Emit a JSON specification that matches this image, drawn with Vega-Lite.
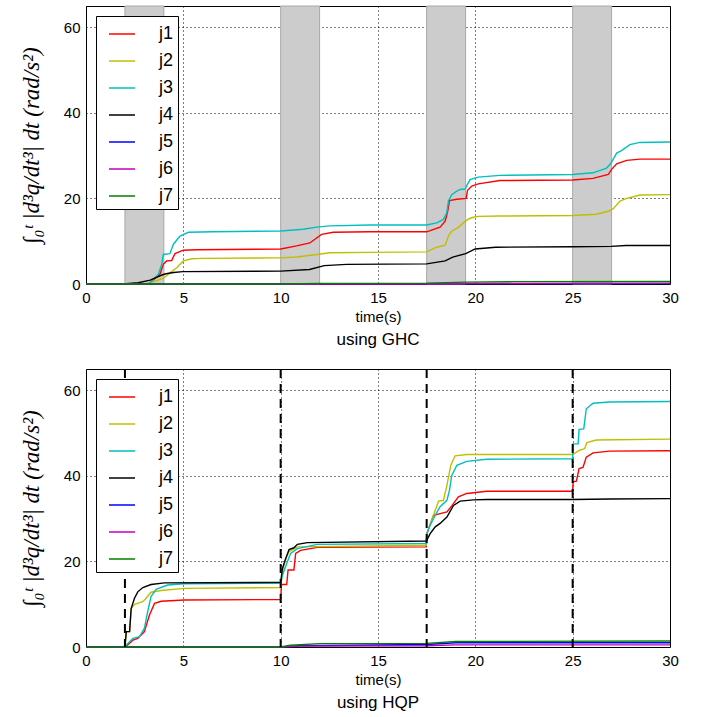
{
  "$schema": "https://vega.github.io/schema/vega-lite/v6.json",
  "padding": {"left": 19, "top": 5, "right": 0, "bottom": 0},
  "spacing": 18,
  "datasets": {
    "ghc": [
      {"j":"j1","t":0,"v":0},{"j":"j1","t":3.2,"v":0},{"j":"j1","t":3.3,"v":0.3},{"j":"j1","t":3.8,"v":2.3},{"j":"j1","t":3.97,"v":4.6},{"j":"j1","t":4.14,"v":5.4},{"j":"j1","t":4.4,"v":5.5},{"j":"j1","t":4.57,"v":7.1},{"j":"j1","t":5.0,"v":7.9},{"j":"j1","t":5.68,"v":8.0},{"j":"j1","t":10.0,"v":8.2},{"j":"j1","t":10.82,"v":8.9},{"j":"j1","t":11.5,"v":9.6},{"j":"j1","t":12.1,"v":11.6},{"j":"j1","t":12.7,"v":12.1},{"j":"j1","t":14.58,"v":12.2},{"j":"j1","t":17.5,"v":12.2},{"j":"j1","t":18.19,"v":13.3},{"j":"j1","t":18.45,"v":14.7},{"j":"j1","t":18.58,"v":17.0},{"j":"j1","t":18.67,"v":19.5},{"j":"j1","t":19.05,"v":19.8},{"j":"j1","t":19.53,"v":20.0},{"j":"j1","t":19.6,"v":21.9},{"j":"j1","t":19.82,"v":22.9},{"j":"j1","t":20.15,"v":23.4},{"j":"j1","t":21.26,"v":24.2},{"j":"j1","t":25.0,"v":24.3},{"j":"j1","t":26.05,"v":24.7},{"j":"j1","t":26.83,"v":25.6},{"j":"j1","t":27.0,"v":26.8},{"j":"j1","t":27.26,"v":28.1},{"j":"j1","t":27.77,"v":28.9},{"j":"j1","t":28.46,"v":29.2},{"j":"j1","t":30,"v":29.2},
      {"j":"j2","t":0,"v":0},{"j":"j2","t":3.06,"v":0},{"j":"j2","t":3.3,"v":0.3},{"j":"j2","t":3.97,"v":1.3},{"j":"j2","t":4.31,"v":2.6},{"j":"j2","t":4.66,"v":3.8},{"j":"j2","t":5.0,"v":5.4},{"j":"j2","t":5.43,"v":5.9},{"j":"j2","t":6.0,"v":6.0},{"j":"j2","t":10.0,"v":6.1},{"j":"j2","t":10.82,"v":6.3},{"j":"j2","t":11.85,"v":6.9},{"j":"j2","t":12.53,"v":7.3},{"j":"j2","t":14.58,"v":7.4},{"j":"j2","t":17.5,"v":7.5},{"j":"j2","t":18.02,"v":8.6},{"j":"j2","t":18.45,"v":9.1},{"j":"j2","t":18.62,"v":11.2},{"j":"j2","t":18.79,"v":12.4},{"j":"j2","t":19.05,"v":13.0},{"j":"j2","t":19.39,"v":14.3},{"j":"j2","t":19.65,"v":15.2},{"j":"j2","t":19.9,"v":15.6},{"j":"j2","t":20.15,"v":15.8},{"j":"j2","t":21.26,"v":15.9},{"j":"j2","t":25.0,"v":16.0},{"j":"j2","t":26.22,"v":16.3},{"j":"j2","t":26.83,"v":17.0},{"j":"j2","t":27.09,"v":17.6},{"j":"j2","t":27.43,"v":19.4},{"j":"j2","t":27.77,"v":20.0},{"j":"j2","t":28.46,"v":20.8},{"j":"j2","t":30,"v":20.9},
      {"j":"j3","t":0,"v":0},{"j":"j3","t":3.2,"v":0},{"j":"j3","t":3.29,"v":0.3},{"j":"j3","t":3.72,"v":2.3},{"j":"j3","t":3.89,"v":4.6},{"j":"j3","t":3.97,"v":6.9},{"j":"j3","t":4.31,"v":7.1},{"j":"j3","t":4.49,"v":9.3},{"j":"j3","t":4.83,"v":11.2},{"j":"j3","t":5.26,"v":12.1},{"j":"j3","t":6.54,"v":12.2},{"j":"j3","t":10.0,"v":12.4},{"j":"j3","t":11.16,"v":12.8},{"j":"j3","t":11.85,"v":13.3},{"j":"j3","t":12.53,"v":13.6},{"j":"j3","t":14.58,"v":13.8},{"j":"j3","t":17.5,"v":13.8},{"j":"j3","t":18.02,"v":14.3},{"j":"j3","t":18.36,"v":15.1},{"j":"j3","t":18.53,"v":16.6},{"j":"j3","t":18.62,"v":19.4},{"j":"j3","t":18.79,"v":20.9},{"j":"j3","t":19.05,"v":21.7},{"j":"j3","t":19.22,"v":22.1},{"j":"j3","t":19.48,"v":22.2},{"j":"j3","t":19.56,"v":23.0},{"j":"j3","t":19.73,"v":24.4},{"j":"j3","t":20.15,"v":25.0},{"j":"j3","t":21.26,"v":25.4},{"j":"j3","t":25.0,"v":25.6},{"j":"j3","t":26.05,"v":26.0},{"j":"j3","t":26.74,"v":27.1},{"j":"j3","t":26.95,"v":28.1},{"j":"j3","t":27.26,"v":30.6},{"j":"j3","t":27.51,"v":31.2},{"j":"j3","t":27.94,"v":32.6},{"j":"j3","t":28.46,"v":33.1},{"j":"j3","t":30,"v":33.2},
      {"j":"j4","t":0,"v":0},{"j":"j4","t":1.9,"v":0},{"j":"j4","t":2.68,"v":0.3},{"j":"j4","t":3.3,"v":0.9},{"j":"j4","t":3.9,"v":2.1},{"j":"j4","t":4.11,"v":2.4},{"j":"j4","t":4.5,"v":2.7},{"j":"j4","t":4.97,"v":2.9},{"j":"j4","t":10.0,"v":3.0},{"j":"j4","t":11.48,"v":3.4},{"j":"j4","t":12.24,"v":4.3},{"j":"j4","t":13.39,"v":4.6},{"j":"j4","t":17.5,"v":4.7},{"j":"j4","t":18.45,"v":5.4},{"j":"j4","t":18.84,"v":6.3},{"j":"j4","t":19.51,"v":7.1},{"j":"j4","t":19.99,"v":8.2},{"j":"j4","t":21.04,"v":8.6},{"j":"j4","t":25.0,"v":8.7},{"j":"j4","t":26.97,"v":8.8},{"j":"j4","t":27.74,"v":9.0},{"j":"j4","t":30,"v":9.0},
      {"j":"j5","t":0,"v":0},{"j":"j5","t":3,"v":0},{"j":"j5","t":5,"v":0.05},{"j":"j5","t":30,"v":0.1},
      {"j":"j6","t":0,"v":0},{"j":"j6","t":18,"v":0},{"j":"j6","t":19.5,"v":0.1},{"j":"j6","t":30,"v":0.15},
      {"j":"j7","t":0,"v":0},{"j":"j7","t":10,"v":0},{"j":"j7","t":12,"v":0.15},{"j":"j7","t":17.5,"v":0.2},{"j":"j7","t":19.5,"v":0.45},{"j":"j7","t":22,"v":0.55},{"j":"j7","t":30,"v":0.6}
    ],
    "hqp": [
      {"j":"j1","t":0,"v":0},{"j":"j1","t":2.0,"v":0},{"j":"j1","t":2.07,"v":0.2},{"j":"j1","t":2.41,"v":1.6},{"j":"j1","t":2.66,"v":2.0},{"j":"j1","t":3.0,"v":3.6},{"j":"j1","t":3.26,"v":7.5},{"j":"j1","t":3.52,"v":10.2},{"j":"j1","t":3.86,"v":10.7},{"j":"j1","t":5.05,"v":11.0},{"j":"j1","t":10.0,"v":11.1},{"j":"j1","t":10.04,"v":14.6},{"j":"j1","t":10.31,"v":14.6},{"j":"j1","t":10.38,"v":18.0},{"j":"j1","t":10.68,"v":18.0},{"j":"j1","t":10.77,"v":21.9},{"j":"j1","t":11.02,"v":22.6},{"j":"j1","t":11.88,"v":23.3},{"j":"j1","t":17.48,"v":23.4},{"j":"j1","t":17.51,"v":26.5},{"j":"j1","t":17.85,"v":30.8},{"j":"j1","t":18.19,"v":31.2},{"j":"j1","t":18.54,"v":31.6},{"j":"j1","t":18.79,"v":33.0},{"j":"j1","t":19.13,"v":35.1},{"j":"j1","t":19.56,"v":35.9},{"j":"j1","t":20.58,"v":36.4},{"j":"j1","t":25.0,"v":36.4},{"j":"j1","t":25.02,"v":38.6},{"j":"j1","t":25.19,"v":38.8},{"j":"j1","t":25.33,"v":41.7},{"j":"j1","t":25.53,"v":42.0},{"j":"j1","t":25.7,"v":44.4},{"j":"j1","t":26.05,"v":45.4},{"j":"j1","t":26.9,"v":45.8},{"j":"j1","t":30,"v":45.9},
      {"j":"j2","t":0,"v":0},{"j":"j2","t":2.0,"v":0},{"j":"j2","t":2.07,"v":3.6},{"j":"j2","t":2.24,"v":3.6},{"j":"j2","t":2.32,"v":9.0},{"j":"j2","t":2.49,"v":10.0},{"j":"j2","t":2.92,"v":10.6},{"j":"j2","t":3.09,"v":11.4},{"j":"j2","t":3.34,"v":12.8},{"j":"j2","t":3.86,"v":13.2},{"j":"j2","t":5.05,"v":13.7},{"j":"j2","t":10.0,"v":13.9},{"j":"j2","t":10.09,"v":17.6},{"j":"j2","t":10.26,"v":20.7},{"j":"j2","t":10.43,"v":22.3},{"j":"j2","t":10.86,"v":23.4},{"j":"j2","t":17.48,"v":23.8},{"j":"j2","t":17.51,"v":26.5},{"j":"j2","t":17.85,"v":30.8},{"j":"j2","t":18.11,"v":34.1},{"j":"j2","t":18.36,"v":34.3},{"j":"j2","t":18.54,"v":37.8},{"j":"j2","t":18.74,"v":42.5},{"j":"j2","t":18.96,"v":44.7},{"j":"j2","t":19.56,"v":45.0},{"j":"j2","t":25.0,"v":45.0},{"j":"j2","t":25.36,"v":46.0},{"j":"j2","t":25.62,"v":46.4},{"j":"j2","t":25.73,"v":47.8},{"j":"j2","t":26.22,"v":48.4},{"j":"j2","t":30,"v":48.6},
      {"j":"j3","t":0,"v":0},{"j":"j3","t":2.0,"v":0},{"j":"j3","t":2.07,"v":0.5},{"j":"j3","t":2.41,"v":2.0},{"j":"j3","t":2.75,"v":2.4},{"j":"j3","t":3.0,"v":4.4},{"j":"j3","t":3.17,"v":8.3},{"j":"j3","t":3.34,"v":11.8},{"j":"j3","t":3.6,"v":13.5},{"j":"j3","t":4.2,"v":14.5},{"j":"j3","t":5.05,"v":14.8},{"j":"j3","t":10.0,"v":14.9},{"j":"j3","t":10.09,"v":16.8},{"j":"j3","t":10.34,"v":19.9},{"j":"j3","t":10.51,"v":21.9},{"j":"j3","t":10.86,"v":23.0},{"j":"j3","t":11.88,"v":24.0},{"j":"j3","t":17.48,"v":24.2},{"j":"j3","t":17.51,"v":26.5},{"j":"j3","t":17.68,"v":28.5},{"j":"j3","t":17.94,"v":30.8},{"j":"j3","t":18.19,"v":32.8},{"j":"j3","t":18.54,"v":34.3},{"j":"j3","t":18.67,"v":36.6},{"j":"j3","t":18.79,"v":40.1},{"j":"j3","t":19.05,"v":42.5},{"j":"j3","t":19.56,"v":43.4},{"j":"j3","t":20.58,"v":43.9},{"j":"j3","t":25.0,"v":44.0},{"j":"j3","t":25.02,"v":47.5},{"j":"j3","t":25.28,"v":47.5},{"j":"j3","t":25.33,"v":50.9},{"j":"j3","t":25.57,"v":51.0},{"j":"j3","t":25.7,"v":55.7},{"j":"j3","t":26.05,"v":57.0},{"j":"j3","t":26.9,"v":57.3},{"j":"j3","t":30,"v":57.4},
      {"j":"j4","t":0,"v":0},{"j":"j4","t":2.0,"v":0},{"j":"j4","t":2.07,"v":3.6},{"j":"j4","t":2.24,"v":3.6},{"j":"j4","t":2.32,"v":9.0},{"j":"j4","t":2.49,"v":11.4},{"j":"j4","t":2.66,"v":12.9},{"j":"j4","t":2.92,"v":13.9},{"j":"j4","t":3.34,"v":14.6},{"j":"j4","t":4.03,"v":15.0},{"j":"j4","t":10.0,"v":15.1},{"j":"j4","t":10.09,"v":18.4},{"j":"j4","t":10.26,"v":20.7},{"j":"j4","t":10.43,"v":22.8},{"j":"j4","t":10.68,"v":23.2},{"j":"j4","t":10.86,"v":24.0},{"j":"j4","t":11.37,"v":24.4},{"j":"j4","t":17.48,"v":24.8},{"j":"j4","t":17.51,"v":25.0},{"j":"j4","t":17.68,"v":26.5},{"j":"j4","t":17.94,"v":28.1},{"j":"j4","t":18.19,"v":28.9},{"j":"j4","t":18.54,"v":30.4},{"j":"j4","t":18.88,"v":33.1},{"j":"j4","t":19.22,"v":34.1},{"j":"j4","t":19.9,"v":34.4},{"j":"j4","t":20.58,"v":34.5},{"j":"j4","t":25.0,"v":34.5},{"j":"j4","t":26.9,"v":34.6},{"j":"j4","t":30,"v":34.7},
      {"j":"j5","t":0,"v":0},{"j":"j5","t":10,"v":0},{"j":"j5","t":11,"v":0.3},{"j":"j5","t":17.5,"v":0.6},{"j":"j5","t":19,"v":1.0},{"j":"j5","t":30,"v":1.0},
      {"j":"j6","t":0,"v":0},{"j":"j6","t":10,"v":0},{"j":"j6","t":11,"v":0.2},{"j":"j6","t":17.5,"v":0.3},{"j":"j6","t":19,"v":0.5},{"j":"j6","t":30,"v":0.5},
      {"j":"j7","t":0,"v":0},{"j":"j7","t":10,"v":0},{"j":"j7","t":10.5,"v":0.4},{"j":"j7","t":12,"v":0.8},{"j":"j7","t":17.5,"v":0.85},{"j":"j7","t":19,"v":1.3},{"j":"j7","t":30,"v":1.4}
    ],
    "bands": [{"s":2,"e":4},{"s":10,"e":12},{"s":17.5,"e":19.5},{"s":25,"e":27}],
    "events": [{"t":2},{"t":10},{"t":17.5},{"t":25}]
  },
  "vconcat": [
    {
      "width": 584, "height": 278,
      "title": {"text": "using GHC", "orient": "bottom"},
      "layer": [
        {
          "data": {"name": "bands"},
          "mark": {"type": "rect", "fill": "#cccccc", "stroke": "#a8a8a8", "strokeWidth": 1},
          "encoding": {
            "x": {"field": "s", "type": "quantitative", "scale": {"domain": [0, 30], "nice": false}},
            "x2": {"field": "e"}
          }
        },
        {
          "data": {"name": "ghc"},
          "mark": {"type": "line", "strokeWidth": 1.4},
          "encoding": {
            "x": {"field": "t", "type": "quantitative", "scale": {"domain": [0, 30], "nice": false},
                  "axis": {"values": [0,5,10,15,20,25,30], "title": "time(s)"}},
            "y": {"field": "v", "type": "quantitative", "scale": {"domain": [0, 65], "nice": false},
                  "axis": {"values": [0,20,40,60], "title": "∫₀ᵗ |d³q/dt³| dt (rad/s²)"}},
            "color": {"field": "j", "type": "nominal",
                      "scale": {"domain": ["j1","j2","j3","j4","j5","j6","j7"],
                                "range": ["#ff0000","#bfbf00","#00bfbf","#000000","#0000ff","#bf00bf","#008000"]}}
          }
        }
      ]
    },
    {
      "width": 584, "height": 278,
      "title": {"text": "using HQP", "orient": "bottom"},
      "layer": [
        {
          "data": {"name": "hqp"},
          "mark": {"type": "line", "strokeWidth": 1.4},
          "encoding": {
            "x": {"field": "t", "type": "quantitative", "scale": {"domain": [0, 30], "nice": false},
                  "axis": {"values": [0,5,10,15,20,25,30], "title": "time(s)"}},
            "y": {"field": "v", "type": "quantitative", "scale": {"domain": [0, 65], "nice": false},
                  "axis": {"values": [0,20,40,60], "title": "∫₀ᵗ |d³q/dt³| dt (rad/s²)"}},
            "color": {"field": "j", "type": "nominal",
                      "scale": {"domain": ["j1","j2","j3","j4","j5","j6","j7"],
                                "range": ["#ff0000","#bfbf00","#00bfbf","#000000","#0000ff","#bf00bf","#008000"]}}
          }
        },
        {
          "data": {"name": "events"},
          "mark": {"type": "rule", "stroke": "#000000", "strokeWidth": 2, "strokeDash": [9, 6]},
          "encoding": {
            "x": {"field": "t", "type": "quantitative", "scale": {"domain": [0, 30], "nice": false}}
          }
        }
      ]
    }
  ],
  "resolve": {"scale": {"color": "independent"}, "legend": {"color": "independent"}},
  "config": {
    "view": {"stroke": "#000000", "strokeWidth": 1},
    "font": "Liberation Sans",
    "title": {"font": "Liberation Sans", "fontSize": 17, "fontWeight": "normal", "color": "#000000", "offset": 8},
    "axis": {
      "domain": false, "ticks": false, "labelPadding": 6,
      "labelFont": "Liberation Sans", "labelFontSize": 15, "labelColor": "#000000",
      "titleFont": "Liberation Sans", "titleFontSize": 15, "titleFontWeight": "normal", "titleColor": "#000000",
      "grid": true, "gridColor": "#000000", "gridDash": [1, 3], "gridOpacity": 1, "gridWidth": 1,
      "zindex": 1
    },
    "axisX": {"titlePadding": 4, "labelFlush": false},
    "axisY": {"titlePadding": 20, "titleFont": "Liberation Serif", "titleFontStyle": "italic", "titleFontSize": 23},
    "legend": {
      "orient": "top-left", "offset": 10, "title": null,
      "strokeColor": "#000000", "fillColor": "#ffffff", "padding": 4, "cornerRadius": 0,
      "symbolType": "stroke", "symbolSize": 676, "symbolStrokeWidth": 1.5, "symbolOffset": 8,
      "labelFont": "Liberation Sans", "labelFontSize": 18, "labelColor": "#000000", "labelOffset": 23,
      "rowPadding": 4, "zindex": 2
    }
  }
}
